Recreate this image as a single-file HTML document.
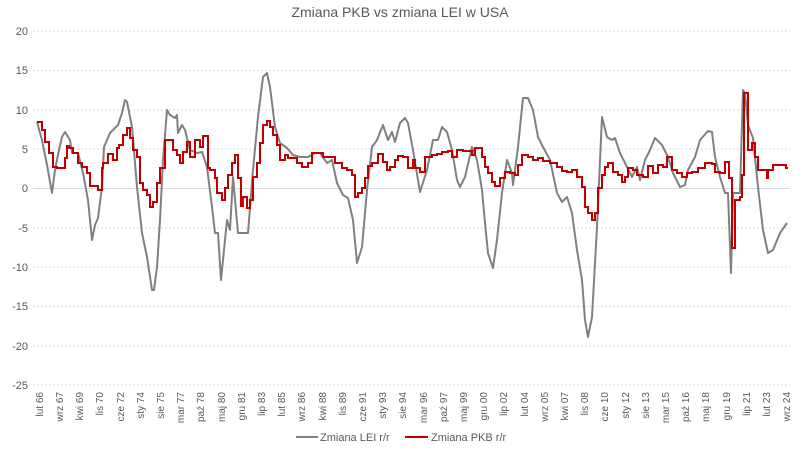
<!DOCTYPE html>
<html><head><meta charset="utf-8"><style>
body{margin:0;background:#fff;}
svg{display:block;font-family:"Liberation Sans",sans-serif;}
</style></head><body>
<svg width="801" height="450" viewBox="0 0 801 450" xmlns="http://www.w3.org/2000/svg">
<text x="400" y="17" text-anchor="middle" font-size="14" fill="#595959">Zmiana PKB vs zmiana LEI w USA</text>
<g stroke="#d9d9d9" stroke-width="1" stroke-dasharray="2,2">
<line x1="33" x2="790" y1="31" y2="31"/><line x1="33" x2="790" y1="70.5" y2="70.5"/><line x1="33" x2="790" y1="110" y2="110"/><line x1="33" x2="790" y1="149" y2="149"/><line x1="33" x2="790" y1="228" y2="228"/><line x1="33" x2="790" y1="267" y2="267"/><line x1="33" x2="790" y1="306.5" y2="306.5"/><line x1="33" x2="790" y1="346" y2="346"/><line x1="33" x2="790" y1="385" y2="385"/>
</g>
<line x1="33" x2="790" y1="188.5" y2="188.5" stroke="#d9d9d9"/>
<g font-size="11" fill="#595959" text-anchor="end">
<text x="28" y="35">20</text><text x="28" y="74">15</text><text x="28" y="114">10</text><text x="28" y="153">5</text><text x="28" y="192">0</text><text x="28" y="232">-5</text><text x="28" y="271">-10</text><text x="28" y="310">-15</text><text x="28" y="350">-20</text><text x="28" y="389">-25</text>
</g>
<g font-size="10" fill="#595959" text-anchor="end" id="xl"></g>
<g font-size="10" fill="#595959" text-anchor="end">
<text transform="translate(43,392) rotate(-90)">lut 66</text>
<text transform="translate(63,392) rotate(-90)">wrz 67</text>
<text transform="translate(83,392) rotate(-90)">kwi 69</text>
<text transform="translate(103,392) rotate(-90)">lis 70</text>
<text transform="translate(124,392) rotate(-90)">cze 72</text>
<text transform="translate(144,392) rotate(-90)">sty 74</text>
<text transform="translate(164,392) rotate(-90)">sie 75</text>
<text transform="translate(184,392) rotate(-90)">mar 77</text>
<text transform="translate(204,392) rotate(-90)">paź 78</text>
<text transform="translate(225,392) rotate(-90)">maj 80</text>
<text transform="translate(245,392) rotate(-90)">gru 81</text>
<text transform="translate(265,392) rotate(-90)">lip 83</text>
<text transform="translate(285,392) rotate(-90)">lut 85</text>
<text transform="translate(305,392) rotate(-90)">wrz 86</text>
<text transform="translate(326,392) rotate(-90)">kwi 88</text>
<text transform="translate(346,392) rotate(-90)">lis 89</text>
<text transform="translate(366,392) rotate(-90)">cze 91</text>
<text transform="translate(386,392) rotate(-90)">sty 93</text>
<text transform="translate(406,392) rotate(-90)">sie 94</text>
<text transform="translate(427,392) rotate(-90)">mar 96</text>
<text transform="translate(447,392) rotate(-90)">paź 97</text>
<text transform="translate(467,392) rotate(-90)">maj 99</text>
<text transform="translate(487,392) rotate(-90)">gru 00</text>
<text transform="translate(507,392) rotate(-90)">lip 02</text>
<text transform="translate(528,392) rotate(-90)">lut 04</text>
<text transform="translate(548,392) rotate(-90)">wrz 05</text>
<text transform="translate(568,392) rotate(-90)">kwi 07</text>
<text transform="translate(588,392) rotate(-90)">lis 08</text>
<text transform="translate(608,392) rotate(-90)">cze 10</text>
<text transform="translate(629,392) rotate(-90)">sty 12</text>
<text transform="translate(649,392) rotate(-90)">sie 13</text>
<text transform="translate(669,392) rotate(-90)">mar 15</text>
<text transform="translate(689,392) rotate(-90)">paź 16</text>
<text transform="translate(709,392) rotate(-90)">maj 18</text>
<text transform="translate(730,392) rotate(-90)">gru 19</text>
<text transform="translate(750,392) rotate(-90)">lip 21</text>
<text transform="translate(770,392) rotate(-90)">lut 23</text>
<text transform="translate(790,392) rotate(-90)">wrz 24</text>
</g>
<polyline fill="none" stroke="#808080" stroke-width="2" stroke-linejoin="round" points="37,122 42,140 47,165 52,193 55,170 59,150 62,137 65,132 70,140 72,153 78,153 83,173 88,200 92,240 95,225 98,218 102,187 104,147 110,133 118,125 122,113 125,100 127,102 132,127 137,187 142,233 147,257 152,290 154,290 157,267 160,220 163,160 167,110 170,115 175,118 177,115 178,133 182,125 185,130 190,150 197,153 202,152 207,167 212,207 215,233 218,233 221,280 223,260 227,220 230,230 233,177 238,233 243,233 248,233 253,170 258,117 263,77 267,73 270,87 275,127 280,143 287,148 293,155 300,157 308,157 315,153 320,153 327,163 332,160 337,183 343,195 348,198 353,220 357,263 362,247 367,190 372,147 377,140 383,125 388,140 392,132 395,142 400,123 405,118 408,123 413,150 420,192 427,170 433,140 438,140 442,127 447,132 452,150 457,180 460,187 465,177 472,147 477,160 482,190 485,223 488,253 493,268 497,240 502,193 507,160 512,173 513,185 518,147 523,98 528,98 533,110 538,137 543,147 550,160 557,193 562,202 567,197 572,213 577,250 582,280 585,320 588,337 592,317 597,227 602,117 607,137 612,140 615,138 620,153 625,163 632,177 637,167 640,180 645,160 650,150 655,138 662,145 668,157 673,173 680,187 685,185 688,170 695,157 700,140 708,131 712,132 715,157 720,177 725,193 728,193 731,273 733,193 740,193 743,90 745,93 748,125 753,138 758,187 763,230 768,253 773,250 780,233 787,223"/>
<polyline fill="none" stroke="#c00000" stroke-width="2" stroke-linejoin="miter" points="37,122 42,122 42,130 45,130 45,142 49,142 49,153 53,153 53,167 57,167 57,168 65,168 65,158 67,158 67,146 69,146 69,148 73,148 73,153 78,153 78,163 82,163 82,167 87,167 87,173 90,173 90,186 98,186 98,190 102,190 102,168 103,168 103,163 108,163 108,154 113,154 113,160 117,160 117,148 119,148 119,145 123,145 123,135 127,135 127,128 130,128 130,138 133,138 133,150 137,150 137,157 140,157 140,183 143,183 143,190 147,190 147,195 150,195 150,207 153,207 153,202 157,202 157,183 160,183 160,168 165,168 165,140 168,140 168,140 173,140 173,150 177,150 177,155 180,155 180,163 183,163 183,152 187,152 187,142 190,142 190,157 195,157 195,140 200,140 200,147 203,147 203,136 208,136 208,168 210,168 210,170 215,170 215,178 217,178 217,193 222,193 222,200 225,200 225,188 228,188 228,175 232,175 232,163 235,163 235,155 238,155 238,178 241,178 241,206 243,206 243,197 247,197 247,208 250,208 250,200 253,200 253,177 257,177 257,163 260,163 260,143 263,143 263,125 267,125 267,121 270,121 270,127 273,127 273,135 277,135 277,145 280,145 280,160 285,160 285,155 288,155 288,158 297,158 297,163 302,163 302,167 308,167 308,163 312,163 312,153 317,153 317,153 323,153 323,157 328,157 328,157 335,157 335,163 342,163 342,168 347,168 347,170 352,170 352,175 355,175 355,197 358,197 358,193 362,193 362,188 365,188 365,178 368,178 368,166 372,166 372,163 378,163 378,154 383,154 383,162 387,162 387,170 390,170 390,167 395,167 395,160 398,160 398,156 403,156 403,157 408,157 408,168 413,168 413,160 415,160 415,168 420,168 420,172 425,172 425,157 432,157 432,155 437,155 437,154 442,154 442,152 448,152 448,151 452,151 452,157 457,157 457,150 463,150 463,151 468,151 468,151 472,151 472,155 475,155 475,148 480,148 480,148 482,148 482,157 485,157 485,167 488,167 488,173 492,173 492,182 495,182 495,186 500,186 500,178 505,178 505,172 510,172 510,173 515,173 515,175 518,175 518,165 522,165 522,155 528,155 528,157 533,157 533,160 538,160 538,158 543,158 543,161 550,161 550,163 557,163 557,167 562,167 562,171 567,171 567,172 572,172 572,170 577,170 577,177 582,177 582,187 585,187 585,207 588,207 588,213 592,213 592,220 595,220 595,213 598,213 598,188 602,188 602,175 605,175 605,167 608,167 608,163 613,163 613,172 618,172 618,175 622,175 622,182 625,182 625,177 628,177 628,168 633,168 633,170 637,170 637,175 643,175 643,177 648,177 648,166 653,166 653,173 658,173 658,165 663,165 663,167 667,167 667,157 672,157 672,170 677,170 677,173 682,173 682,177 687,177 687,173 692,173 692,172 698,172 698,168 705,168 705,163 712,163 712,164 715,164 715,172 720,172 720,173 725,173 725,162 729,162 729,178 732,178 732,248 735,248 735,200 740,200 740,197 742,197 742,175 744,175 744,93 748,93 748,150 752,150 752,143 755,143 755,157 758,157 758,170 763,170 763,170 767,170 767,178 768,178 768,170 773,170 773,165 782,165 782,165 786,165 786,168 788,168"/>
<line x1="296" x2="318" y1="437" y2="437" stroke="#808080" stroke-width="2"/>
<text x="320" y="441" font-size="11" fill="#595959">Zmiana LEI r/r</text>
<line x1="405" x2="428" y1="437" y2="437" stroke="#c00000" stroke-width="2"/>
<text x="431" y="441" font-size="11" fill="#595959">Zmiana PKB r/r</text>
</svg>
</body></html>
